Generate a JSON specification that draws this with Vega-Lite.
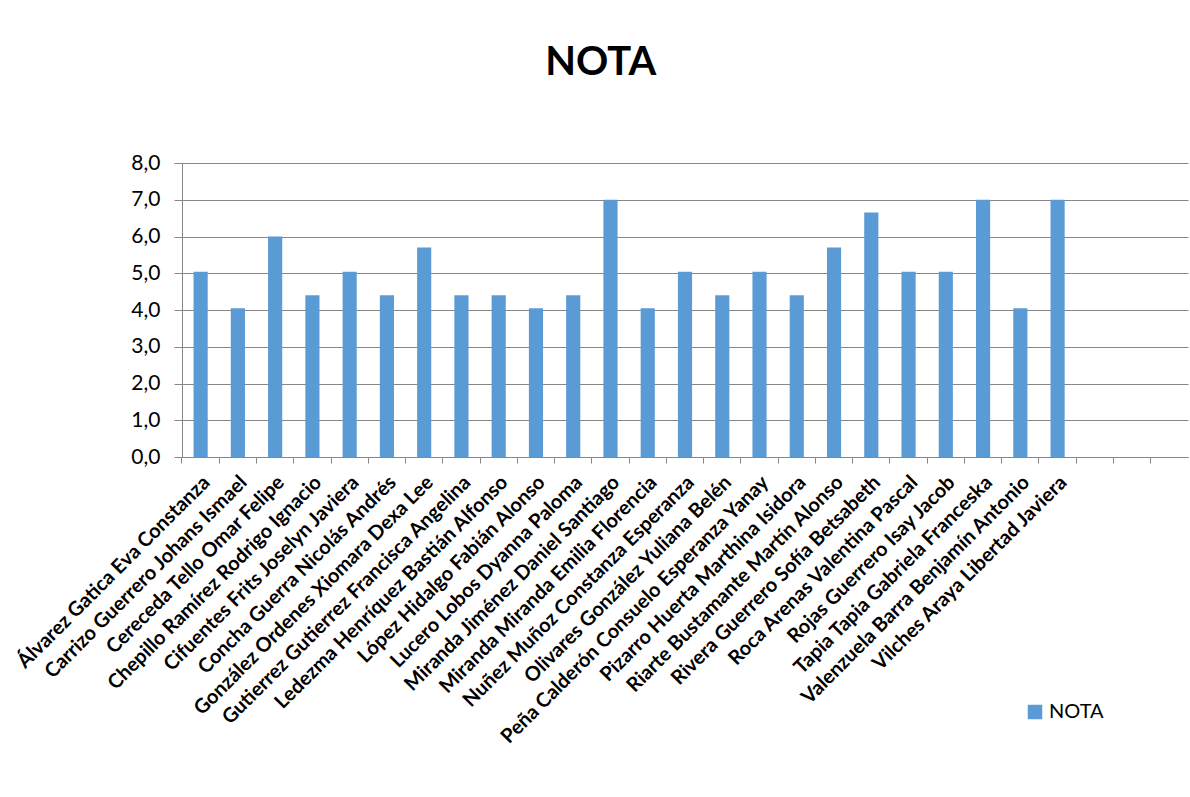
{
  "$schema": "https://vega.github.io/schema/vega-lite/v6.json",
  "autosize": {"type": "none"},
  "width": 1006,
  "height": 294,
  "padding": {"left": 182, "top": 163, "right": 2, "bottom": 340},
  "background": "white",
  "title": {
    "text": "NOTA",
    "font": "Lato",
    "fontSize": 40,
    "fontWeight": "bold",
    "color": "#000000",
    "anchor": "middle",
    "frame": "bounds",
    "offset": 69
  },
  "config": {
    "view": {"stroke": null},
    "font": "Lato"
  },
  "data": {
    "values": [
      {"nombre": "Álvarez Gatica Eva Constanza", "NOTA": 5.04},
      {"nombre": "Carrizo Guerrero Johans Ismael", "NOTA": 4.05},
      {"nombre": "Cereceda Tello Omar Felipe", "NOTA": 6.0},
      {"nombre": "Chepillo Ramírez Rodrigo Ignacio", "NOTA": 4.4},
      {"nombre": "Cifuentes Frits Joselyn Javiera", "NOTA": 5.04},
      {"nombre": "Concha Guerra Nicolás Andrés", "NOTA": 4.4},
      {"nombre": "González Ordenes Xiomara Dexa Lee", "NOTA": 5.7},
      {"nombre": "Gutierrez Gutierrez Francisca Angelina", "NOTA": 4.4},
      {"nombre": "Ledezma Henríquez Bastián  Alfonso", "NOTA": 4.4},
      {"nombre": "López Hidalgo Fabián Alonso", "NOTA": 4.05},
      {"nombre": "Lucero Lobos Dyanna Paloma", "NOTA": 4.4},
      {"nombre": "Miranda Jiménez Daniel Santiago", "NOTA": 7.0},
      {"nombre": "Miranda Miranda Emilia Florencia", "NOTA": 4.05},
      {"nombre": "Nuñez Muñoz Constanza Esperanza", "NOTA": 5.04},
      {"nombre": "Olivares González Yuliana Belén", "NOTA": 4.4},
      {"nombre": "Peña Calderón Consuelo Esperanza Yanay", "NOTA": 5.04},
      {"nombre": "Pizarro Huerta Marthina Isidora", "NOTA": 4.4},
      {"nombre": "Riarte Bustamante Martín Alonso", "NOTA": 5.7},
      {"nombre": "Rivera Guerrero Sofía Betsabeth", "NOTA": 6.65},
      {"nombre": "Roca Arenas Valentina Pascal", "NOTA": 5.04},
      {"nombre": "Rojas Guerrero Isay Jacob", "NOTA": 5.04},
      {"nombre": "Tapia Tapia Gabriela Franceska", "NOTA": 7.0},
      {"nombre": "Valenzuela Barra Benjamín Antonio", "NOTA": 4.05},
      {"nombre": "Vilches Araya Libertad Javiera", "NOTA": 7.0}
    ]
  },
  "mark": {"type": "bar"},
  "encoding": {
    "x": {
      "field": "nombre",
      "type": "nominal",
      "sort": null,
      "scale": {
        "domain": [
          "Álvarez Gatica Eva Constanza",
          "Carrizo Guerrero Johans Ismael",
          "Cereceda Tello Omar Felipe",
          "Chepillo Ramírez Rodrigo Ignacio",
          "Cifuentes Frits Joselyn Javiera",
          "Concha Guerra Nicolás Andrés",
          "González Ordenes Xiomara Dexa Lee",
          "Gutierrez Gutierrez Francisca Angelina",
          "Ledezma Henríquez Bastián  Alfonso",
          "López Hidalgo Fabián Alonso",
          "Lucero Lobos Dyanna Paloma",
          "Miranda Jiménez Daniel Santiago",
          "Miranda Miranda Emilia Florencia",
          "Nuñez Muñoz Constanza Esperanza",
          "Olivares González Yuliana Belén",
          "Peña Calderón Consuelo Esperanza Yanay",
          "Pizarro Huerta Marthina Isidora",
          "Riarte Bustamante Martín Alonso",
          "Rivera Guerrero Sofía Betsabeth",
          "Roca Arenas Valentina Pascal",
          "Rojas Guerrero Isay Jacob",
          "Tapia Tapia Gabriela Franceska",
          "Valenzuela Barra Benjamín Antonio",
          "Vilches Araya Libertad Javiera",
          "_vacio1",
          "_vacio2",
          "_vacio3"
        ],
        "paddingInner": 0.62,
        "paddingOuter": 0.31
      },
      "axis": {
        "title": null,
        "labelAngle": -45,
        "labelAlign": "right",
        "labelBaseline": "middle",
        "labelFont": "Lato",
        "labelFontSize": 20,
        "labelFontWeight": "bold",
        "labelColor": "#000000",
        "labelLimit": 400,
        "labelPadding": 16,
        "labelOffset": 6,
        "labelExpr": "indexof(datum.value, '_vacio') == 0 ? '' : datum.value",
        "bandPosition": -0.816,
        "tickSize": 6,
        "tickColor": "#878787",
        "domainColor": "#878787",
        "grid": false
      }
    },
    "y": {
      "field": "NOTA",
      "type": "quantitative",
      "scale": {"domain": [0, 8], "nice": false},
      "axis": {
        "title": null,
        "values": [0, 1, 2, 3, 4, 5, 6, 7, 8],
        "labelExpr": "replace(format(datum.value, '.1f'), '.', ',')",
        "labelFont": "Lato",
        "labelFontSize": 21,
        "labelColor": "#000000",
        "labelPadding": 14,
        "tickSize": 8,
        "tickColor": "#878787",
        "domainColor": "#878787",
        "grid": true,
        "gridColor": "#878787",
        "gridWidth": 1
      }
    },
    "color": {
      "datum": "NOTA",
      "scale": {"range": ["#5B9BD5"]},
      "legend": {
        "title": null,
        "orient": "none",
        "legendX": 843,
        "legendY": 539,
        "symbolType": "square",
        "symbolSize": 210,
        "symbolStrokeWidth": 0,
        "labelFont": "Lato",
        "labelFontSize": 20,
        "labelColor": "#000000"
      }
    }
  }
}
